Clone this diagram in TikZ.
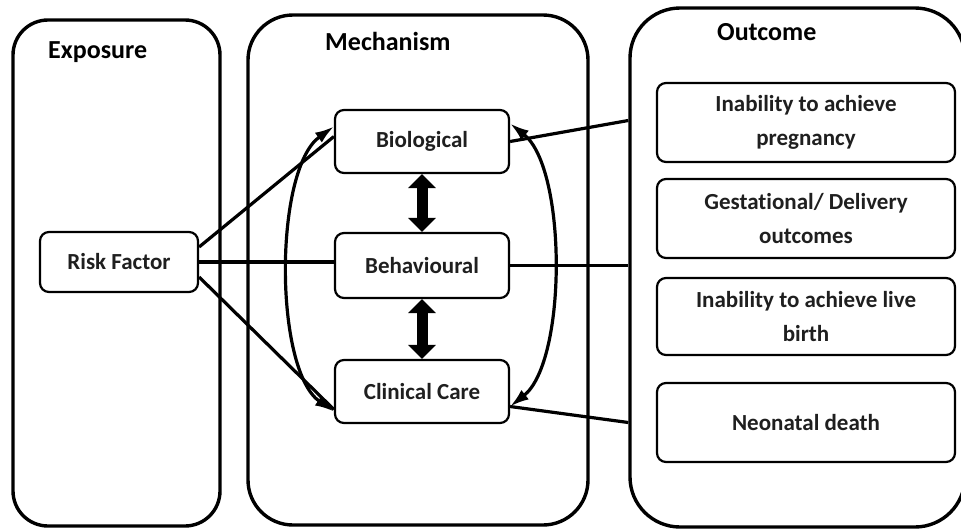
\documentclass[tikz,border=0pt]{standalone}
\usepackage{fontspec}
\setmainfont{Carlito}[Ligatures=NoCommon]
\usetikzlibrary{arrows.meta}
\begin{document}
\begin{tikzpicture}[x=1pt,y=-1pt,
  panel/.style={draw, line width=3.4pt, rounded corners=#1, inner sep=0pt},
  box/.style={draw, line width=2.2pt, rounded corners=9pt, inner sep=0pt, fill=white, align=center, font=\bfseries\fontsize{23}{34}\selectfont, text=black!88},
  ttl/.style={font=\bfseries\fontsize{26}{30}\selectfont, anchor=base west, inner sep=0pt},
  conn/.style={line width=3.2pt},
  curv/.style={line width=3.2pt, {Latex[length=19pt,width=12pt]}-{Latex[length=19pt,width=12pt]}},
  dbl/.style={line width=11pt, {Triangle[length=14pt,width=27pt]}-{Triangle[length=14pt,width=27pt]}}
]
\useasboundingbox (0,0) rectangle (961,528);
\fill[white] (0,0) rectangle (961,528);
% panels
\node[panel=35pt, minimum width=207pt, minimum height=506pt] (expp) at (116.5,273) {};
\node[panel=45pt, minimum width=340pt, minimum height=510pt] (mechp) at (418,270) {};
\node[panel=50pt, minimum width=335pt, minimum height=519pt] (outp) at (797.5,267.5) {};
% titles
\node[ttl] (texp) at (48,58) {Exposure};
\node[ttl] (tmech) at (325,50) {Mechanism};
\node[ttl] (tout) at (717,40) {Outcome};
% boxes
\node[box, minimum width=158pt, minimum height=60pt] (rf) at (119,262) {Risk Factor};
\node[box, minimum width=174pt, minimum height=63pt] (bio) at (422,141.5) {Biological};
\node[box, minimum width=174pt, minimum height=65pt] (beh) at (422,265.5) {Behavioural};
\node[box, minimum width=174pt, minimum height=63pt] (cc) at (422,391.5) {Clinical Care};
\node[box, minimum width=298pt, minimum height=79pt] (o1) at (806,122.5) {Inability to achieve\\pregnancy};
\node[box, minimum width=298pt, minimum height=79pt] (o2) at (806,218.5) {Gestational/ Delivery\\outcomes};
\node[box, minimum width=298pt, minimum height=77pt] (o3) at (806,316.5) {Inability to achieve live\\birth};
\node[box, minimum width=298pt, minimum height=79pt] (o4) at (806,422.5) {Neonatal death};
% connectors from risk factor
\draw[conn] ([yshift=15pt]rf.east) -- ([yshift=5pt]bio.west);
\draw[conn] (rf.east) -- (rf.east -| beh.west);
\draw[conn] ([yshift=-15pt]rf.east) -- ([yshift=-18pt]cc.west);
% connectors to outcome panel
\draw[conn] (bio.east) -- ([yshift=147pt]outp.west);
\draw[conn] (beh.east) -- (beh.east -| outp.west);
\draw[conn] ([yshift=-15pt]cc.east) -- ([yshift=-155pt]outp.west);
% curved arrows
\draw[curv] ([yshift=15pt]bio.west) .. controls +(-60,43) and +(-60,-42) .. ([yshift=-20pt]cc.west);
\draw[curv] ([yshift=18pt]bio.east) .. controls +(57,45) and +(57,-45) .. ([yshift=-15pt]cc.east);
% double arrows
\draw[dbl] (bio.south) -- (beh.north);
\draw[dbl] (beh.south) -- (cc.north);
\end{tikzpicture}
\end{document}
